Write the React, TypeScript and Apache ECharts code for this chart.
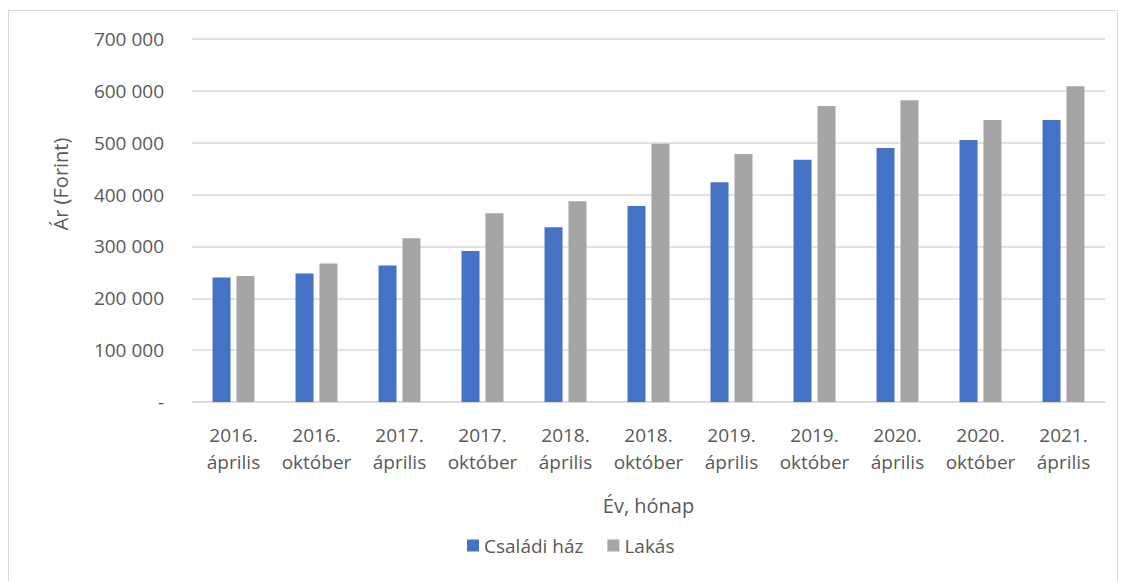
import React, { useEffect, useRef } from "react";
import * as echarts from "echarts";

const categories = [
  "2016.\náprilis", "2016.\noktóber", "2017.\náprilis", "2017.\noktóber",
  "2018.\náprilis", "2018.\noktóber", "2019.\náprilis", "2019.\noktóber",
  "2020.\náprilis", "2020.\noktóber", "2021.\náprilis",
];
const csaladiHaz = [240000, 248000, 263000, 291000, 337000, 378000, 424000, 467000, 490000, 505000, 544000];
const lakas = [243000, 267000, 316000, 364000, 387000, 498000, 478000, 571000, 582000, 544000, 609000];

const FONT = "'Open Sans', sans-serif";
const TXT = "#595959";

export default function App() {
  const ref = useRef<HTMLDivElement>(null);
  useEffect(() => {
    const chart = echarts.init(ref.current!, null, { renderer: "svg" });
    chart.setOption({
      animation: false,
      textStyle: { fontFamily: FONT },
      grid: { left: 192, right: 17, top: 39, bottom: 179 },
      legend: {
        data: ["Családi ház", "Lakás"],
        left: 462,
        top: 531,
        icon: "rect",
        itemWidth: 12,
        itemHeight: 12,
        itemGap: 24,
        textStyle: { color: TXT, fontSize: 19, fontFamily: FONT },
      },
      xAxis: {
        type: "category",
        data: categories,
        name: "Év, hónap",
        nameLocation: "middle",
        nameGap: 93,
        nameTextStyle: { color: TXT, fontSize: 20, fontFamily: FONT },
        axisLine: { lineStyle: { color: "#d9d9d9", width: 1.5 } },
        axisTick: { show: false },
        axisLabel: { color: TXT, fontSize: 19, lineHeight: 27, margin: 19, interval: 0, fontFamily: FONT },
      },
      yAxis: {
        type: "value",
        min: 0,
        max: 700000,
        interval: 100000,
        axisLine: { show: false },
        axisTick: { show: false },
        splitLine: { lineStyle: { color: "#d9d9d9", width: 1.5 } },
        axisLabel: {
          color: TXT,
          fontSize: 19,
          margin: 28,
          fontFamily: FONT,
          formatter: (v: number) => (v === 0 ? "-" : String(v).replace(/\B(?=(\d{3})+(?!\d))/g, " ")),
        },
      },
      series: [
        { name: "Családi ház", type: "bar", data: csaladiHaz, barWidth: 18, barGap: "33%", itemStyle: { color: "#4472C4" } },
        { name: "Lakás", type: "bar", data: lakas, barWidth: 18, itemStyle: { color: "#A5A5A5" } },
      ],
      graphic: [
        {
          type: "rect",
          shape: { x: 8.5, y: 10.5, width: 1109, height: 575 },
          style: { fill: "none", stroke: "#d9d9d9", lineWidth: 1 },
          silent: true,
        },
        {
          type: "text",
          x: 60,
          y: 184,
          rotation: Math.PI / 2,
          style: { text: "Ár (Forint)", fill: TXT, fontSize: 20, fontFamily: FONT, align: "center", verticalAlign: "middle" },
        },
      ],
    });
    return () => chart.dispose();
  }, []);
  return <div ref={ref} style={{ position: "fixed", left: 0, top: 0, width: 1122, height: 581, background: "#fff" }} />;
}
